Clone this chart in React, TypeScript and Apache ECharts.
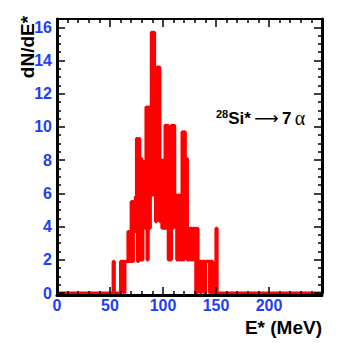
import React, { useEffect, useRef } from "react";
import * as echarts from "echarts";

// Histogram: bins of 1 MeV on [0, 250); non-zero part starts at 50 MeV
const binWidth = 1;
const axisMinE = 0;
const axisMaxE = 250;
const firstBinE = 50;
const binValues = [
  0, 0, 0, 1.9, 0, 0, 0, 0, 0, 0, // 50-59
  1.9, 1.9, 1.9, 0, 1.9, 1.9, 1.9, 3.7, 1.9, 3.7, // 60-69
  5.5, 1.9, 5.5, 3.7, 5.8, 9.3, 1.9, 9.3, 2.0, 8.1, // 70-79
  2.0, 7.7, 3.9, 8.0, 11.2, 2.0, 11.2, 3.9, 11.2, 15.7, // 80-89
  5.9, 15.7, 13.5, 4.3, 13.6, 5.9, 13.6, 4.3, 8.0, 3.9, // 90-99
  8.0, 3.9, 10.1, 3.9, 10.1, 2.0, 7.8, 2.0, 10.1, 3.9, // 100-109
  10.1, 5.9, 5.9, 2.0, 5.9, 2.0, 5.9, 2.0, 9.7, 2.0, // 110-119
  9.7, 3.9, 8.1, 2.0, 3.9, 2.0, 3.9, 2.0, 3.9, 2.0, // 120-129
  3.9, 0, 3.9, 1.9, 1.9, 0, 1.9, 1.9, 1.9, 0, // 130-139
  1.9, 1.9, 1.9, 1.9, 0, 1.9, 1.9, 0, 0, 0, // 140-149
  3.9, 0, 0, 0, 0, // 150-154
];

const yMin = 0;
const yMax = 16.5;
const yInterval = 2;
const xInterval = 50;
const yTitle = "dN/dE*";
const xTitle = "E* (MeV)";

const blue = "#1f3ff5";
const font = "Liberation Sans";

export default function App() {
  const ref = useRef<HTMLDivElement>(null);
  useEffect(() => {
    document.body.style.margin = "0";
    if (!ref.current) return;
    const chart = echarts.init(ref.current, undefined, { renderer: "svg" });
    const nBins = Math.round((axisMaxE - axisMinE) / binWidth);
    const data: [number, number][] = [[axisMinE, 0]];
    for (let i = 0; i < nBins; i++) {
      const e = axisMinE + i * binWidth;
      const k = Math.round((e - firstBinE) / binWidth);
      const v = k >= 0 && k < binValues.length ? binValues[k] : 0;
      data.push([e + binWidth / 2, v]);
    }
    data.push([axisMaxE, 0]);

    const tickStyle = { color: "#000", width: 1.5 };
    const baseX = {
      type: "value" as const,
      min: axisMinE,
      max: axisMaxE,
      interval: xInterval,
      splitLine: { show: false },
      axisTick: { show: true, inside: true, length: 8, lineStyle: tickStyle },
      minorTick: { show: true, splitNumber: 5, length: 4, lineStyle: tickStyle },
      z: 5,
    };
    const baseY = {
      type: "value" as const,
      min: yMin,
      max: yMax,
      interval: yInterval,
      splitLine: { show: false },
      axisTick: { show: true, inside: true, length: 8, lineStyle: tickStyle },
      minorTick: { show: true, splitNumber: 4, length: 4, lineStyle: tickStyle },
      z: 5,
    };

    chart.setOption({
      animation: false,
      grid: { left: 57, right: 35, top: 19, bottom: 58, containLabel: false },
      xAxis: [
        {
          ...baseX,
          position: "bottom",
          offset: 2,
          axisLine: { show: true, onZero: false, lineStyle: { color: "#000", width: 3 } },
          axisLabel: {
            show: true,
            color: blue,
            fontSize: 16,
            fontWeight: "bold",
            fontFamily: font,
            margin: 2,
            showMaxLabel: false,
          },
        },
        {
          ...baseX,
          position: "top",
          axisLine: { show: true, onZero: false, lineStyle: { color: "#000", width: 2 } },
          axisLabel: { show: false },
        },
      ],
      yAxis: [
        {
          ...baseY,
          position: "left",
          axisLine: { show: true, onZero: false, lineStyle: { color: "#000", width: 3 } },
          axisLabel: {
            show: true,
            color: blue,
            fontSize: 16,
            fontWeight: "bold",
            fontFamily: font,
            margin: 5,
            showMaxLabel: false,
          },
        },
        {
          ...baseY,
          position: "right",
          axisLine: { show: true, onZero: false, lineStyle: { color: "#000", width: 3 } },
          axisLabel: { show: false },
        },
      ],
      series: [
        {
          type: "line",
          step: "middle",
          data,
          xAxisIndex: 0,
          yAxisIndex: 0,
          showSymbol: false,
          symbol: "none",
          clip: false,
          z: 2,
          lineStyle: { color: "#ff0000", width: 3.2 },
        },
      ],
      graphic: [
        {
          type: "text",
          x: 27,
          y: 47,
          rotation: Math.PI / 2,
          style: {
            text: yTitle,
            fill: "#000",
            font: `bold 19px ${font}`,
            align: "center",
            verticalAlign: "middle",
          },
        },
        {
          type: "text",
          x: 322,
          y: 327,
          style: {
            text: xTitle,
            fill: "#000",
            font: `bold 19px ${font}`,
            align: "right",
            verticalAlign: "middle",
          },
        },
        {
          type: "text",
          x: 216,
          y: 118,
          style: {
            text: "{sup|28}{b|Si*} {n|\u27f6} {b|7} {a|\u03b1}",
            verticalAlign: "middle",
            align: "left",
            rich: {
              sup: { fontSize: 11, fontWeight: "bold", fontFamily: font, fill: "#000", verticalAlign: "top", lineHeight: 20 },
              b: { fontSize: 17, fontWeight: "bold", fontFamily: font, fill: "#000", lineHeight: 20 },
              n: { fontSize: 17, fontFamily: "DejaVu Sans", fill: "#000", lineHeight: 20 },
              a: { fontSize: 20, fontFamily: "Liberation Serif", fill: "#000", lineHeight: 20 },
            },
          },
        },
      ],
    });
    return () => chart.dispose();
  }, []);
  return (
    <div
      ref={ref}
      style={{ position: "absolute", left: 0, top: 0, width: 357, height: 351 }}
    />
  );
}
